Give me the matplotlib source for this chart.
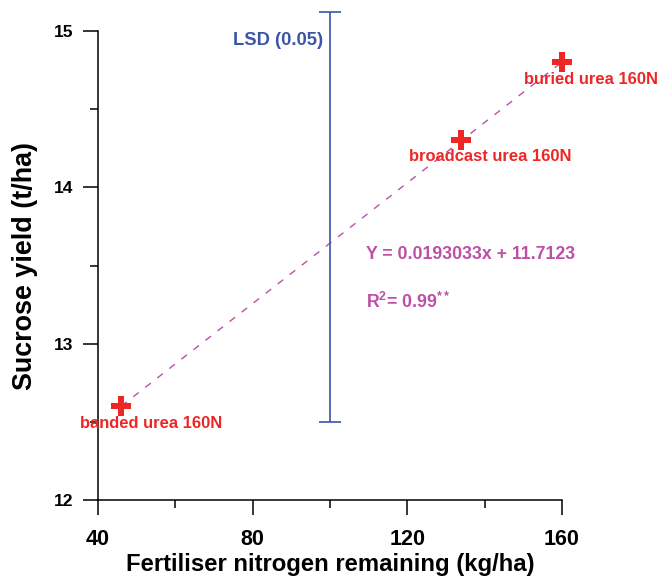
import matplotlib.pyplot as plt
import numpy as np
from matplotlib.ticker import MultipleLocator

plt.rcParams['font.family'] = ['Liberation Sans', 'DejaVu Sans']
plt.rcParams['font.weight'] = 'bold'
plt.rcParams['mathtext.fontset'] = 'custom'
plt.rcParams['mathtext.rm'] = 'Liberation Sans:bold'
plt.rcParams['mathtext.it'] = 'Liberation Sans:bold'
plt.rcParams['mathtext.bf'] = 'Liberation Sans:bold'

# fertiliser N remaining vs sucrose yield
treatments = ['banded urea 160N', 'broadcast urea 160N', 'buried urea 160N']
n_remaining = [46, 134, 160]
sucrose = [12.6, 14.3, 14.8]

# regression and LSD
slope = 0.0193033
intercept = 11.7123
lsd_x = 100
lsd_low, lsd_high = 12.5, 15.12

red = '#ee2626'
pink = '#bd50a6'
blue = '#3a55a8'

fig = plt.figure(figsize=(6.59, 5.78), dpi=100)
ax = fig.add_axes([0.1487, 0.1349, 0.704, 0.8115])

xfit = np.array([min(n_remaining), max(n_remaining)])
ax.plot(xfit, slope * xfit + intercept, ls=(0, (5, 6)), lw=1.0, color=pink)
ax.plot(n_remaining, sucrose, 'P', ms=15, mew=0, color=red, zorder=3, clip_on=False)

# LSD bar
ax.errorbar([lsd_x], [(lsd_low + lsd_high) / 2], yerr=[(lsd_high - lsd_low) / 2],
            fmt='none', ecolor=blue, elinewidth=1.2, capsize=8, capthick=1.2,
            clip_on=False)
ax.text(98.2, 14.94, 'LSD (0.05)', color=blue, fontsize=13.2, ha='right', va='center')

label_pos = [(53.7, 12.49), (141.5, 14.20), (167.5, 14.69)]
for name, (lx, ly) in zip(treatments, label_pos):
    ax.text(lx, ly, name, color=red, fontsize=11.9, ha='center', va='center',
            clip_on=False)

ax.text(109.3, 13.57, 'Y = %.7fx + %.4f' % (slope, intercept), color=pink,
        fontsize=12.8, ha='left', va='center')
ax.text(109.3, 13.27, r'R$^{2}$= 0.99$^{**}$', color=pink, fontsize=12.8,
        ha='left', va='center')

ax.set_xlim(40, 160)
ax.set_ylim(12, 15)
ax.spines['top'].set_visible(False)
ax.spines['right'].set_visible(False)
ax.spines['left'].set_linewidth(1.1)
ax.spines['bottom'].set_linewidth(1.1)
ax.xaxis.set_major_locator(MultipleLocator(40))
ax.xaxis.set_minor_locator(MultipleLocator(20))
ax.yaxis.set_major_locator(MultipleLocator(1))
ax.yaxis.set_minor_locator(MultipleLocator(0.5))
ax.tick_params(which='major', direction='out', length=10.8, width=1.1)
ax.tick_params(which='minor', direction='out', length=5.5, width=1.1)
ax.tick_params(axis='x', which='major', labelsize=15.5, pad=10)
ax.tick_params(axis='y', which='major', labelsize=12.5, pad=7)

ax.set_xlabel('Fertiliser nitrogen remaining (kg/ha)', fontsize=17.2, fontweight='bold')
ax.set_ylabel('Sucrose yield (t/ha)', fontsize=19.4, fontweight='bold')
ax.xaxis.label.set_va('baseline')
ax.xaxis.set_label_coords(0.5, -0.151)
ax.yaxis.label.set_va('baseline')
ax.yaxis.set_label_coords(-0.142, 0.5)

fig.savefig('out.png', dpi=100)
